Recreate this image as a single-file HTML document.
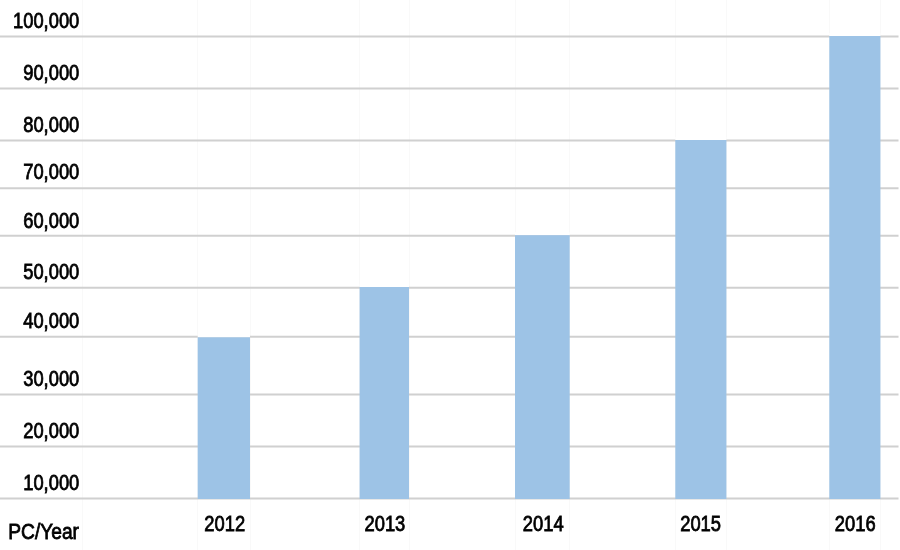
<!DOCTYPE html>
<html><head><meta charset="utf-8"><title>PC/Year</title>
<style>
html,body{margin:0;padding:0;background:#fff;}
body{width:900px;height:550px;overflow:hidden;}
svg{display:block;}
text{font-family:"Liberation Sans",sans-serif;font-size:21.6px;fill:#000;stroke:#000;stroke-width:0.8px;}
</style></head><body>
<svg xmlns="http://www.w3.org/2000/svg" width="900" height="550" viewBox="0 0 900 550">
<rect width="900" height="550" fill="#fff"/>

<g stroke="#f9f9f9" stroke-width="1">
<line x1="82.5" y1="0" x2="82.5" y2="550"/>
<line x1="197.5" y1="0" x2="197.5" y2="550"/>
<line x1="250.5" y1="0" x2="250.5" y2="550"/>
<line x1="359.5" y1="0" x2="359.5" y2="550"/>
<line x1="409.5" y1="0" x2="409.5" y2="550"/>
<line x1="515.5" y1="0" x2="515.5" y2="550"/>
<line x1="569.5" y1="0" x2="569.5" y2="550"/>
<line x1="675.5" y1="0" x2="675.5" y2="550"/>
<line x1="726.5" y1="0" x2="726.5" y2="550"/>
<line x1="829.5" y1="0" x2="829.5" y2="550"/>
<line x1="880.5" y1="0" x2="880.5" y2="550"/>
</g>
<g stroke="#d0d0d0" stroke-width="2">
<line x1="0" y1="36.6" x2="898.5" y2="36.6"/>
<line x1="0" y1="88.6" x2="898.5" y2="88.6"/>
<line x1="0" y1="140.4" x2="898.5" y2="140.4"/>
<line x1="0" y1="188.15" x2="898.5" y2="188.15"/>
<line x1="0" y1="235.7" x2="898.5" y2="235.7"/>
<line x1="0" y1="287.65" x2="898.5" y2="287.65"/>
<line x1="0" y1="336.8" x2="898.5" y2="336.8"/>
<line x1="0" y1="394.4" x2="898.5" y2="394.4"/>
<line x1="0" y1="446.5" x2="898.5" y2="446.5"/>
<line x1="0" y1="498.5" x2="898.5" y2="498.5"/>
</g>
<g fill="#fff">
<rect x="197.7" y="334.3" width="52.3" height="3"/>
<rect x="359.6" y="284.0" width="49.4" height="3"/>
<rect x="515.0" y="232.2" width="54.7" height="3"/>
<rect x="675.3" y="137.0" width="51.1" height="3"/>
<rect x="829.3" y="33.0" width="51.1" height="3"/>
</g>
<g fill="#9dc3e6">
<rect x="197.7" y="337.3" width="52.3" height="161.7"/>
<rect x="359.6" y="287.0" width="49.4" height="212.0"/>
<rect x="515.0" y="235.2" width="54.7" height="263.8"/>
<rect x="675.3" y="140.0" width="51.1" height="359.0"/>
<rect x="829.3" y="36.0" width="51.1" height="463.0"/>
</g>
<text transform="translate(79.3 28.2) scale(0.85 1)" text-anchor="end">100,000</text>
<text transform="translate(79.3 80.2) scale(0.85 1)" text-anchor="end">90,000</text>
<text transform="translate(79.3 132.2) scale(0.85 1)" text-anchor="end">80,000</text>
<text transform="translate(79.3 179.3) scale(0.85 1)" text-anchor="end">70,000</text>
<text transform="translate(79.3 227.8) scale(0.85 1)" text-anchor="end">60,000</text>
<text transform="translate(79.3 279.2) scale(0.85 1)" text-anchor="end">50,000</text>
<text transform="translate(79.3 327.9) scale(0.85 1)" text-anchor="end">40,000</text>
<text transform="translate(79.3 386.2) scale(0.85 1)" text-anchor="end">30,000</text>
<text transform="translate(79.3 437.9) scale(0.85 1)" text-anchor="end">20,000</text>
<text transform="translate(79.3 489.9) scale(0.85 1)" text-anchor="end">10,000</text>
<text transform="translate(79.0 539.1) scale(0.888 1)" text-anchor="end">PC/Year</text>
<text transform="translate(224.7 530.6) scale(0.85 1)" text-anchor="middle">2012</text>
<text transform="translate(384.9 530.6) scale(0.85 1)" text-anchor="middle">2013</text>
<text transform="translate(543.2 530.6) scale(0.85 1)" text-anchor="middle">2014</text>
<text transform="translate(700.6 530.6) scale(0.85 1)" text-anchor="middle">2015</text>
<text transform="translate(855.2 530.6) scale(0.85 1)" text-anchor="middle">2016</text>
</svg></body></html>
